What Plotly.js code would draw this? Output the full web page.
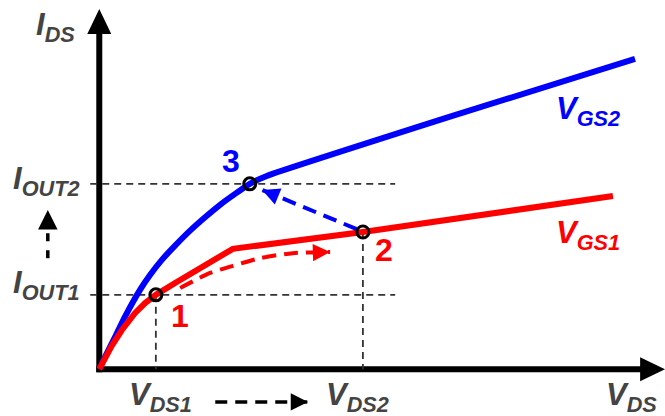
<!DOCTYPE html>
<html>
<head>
<meta charset="utf-8">
<script src="https://cdn.plot.ly/plotly-3.0.1.min.js"></script>
<style>
  html, body { margin: 0; padding: 0; background: #fff; }
  #chart { width: 665px; height: 416px; }
</style>
</head>
<body>
<div id="chart"></div>
<script>
// I-V characteristic for two gate voltages (arbitrary units)
const vgs2Vds = [0, 0.10, 0.28, 0.45, 0.72, 0.90, 1.11, 1.34, 1.60, 1.87, 2.13, 2.40, 2.66, 2.96, 6.20, 9.47];
const vgs2Ids = [0, 0.34, 0.90, 1.45, 2.21, 2.63, 3.05, 3.44, 3.85, 4.23, 4.57, 4.88, 5.16, 5.38, 7.03, 8.64];

const vgs1Vds = [0, 0.10, 0.22, 0.40, 0.63, 0.81, 1.00, 1.34, 1.69, 2.03, 2.36, 4.66, 6.91, 9.08];
const vgs1Ids = [0, 0.31, 0.65, 1.09, 1.56, 1.84, 2.07, 2.40, 2.73, 3.04, 3.35, 3.82, 4.32, 4.82];

// operating points 1, 2, 3
const opLabels = ['1', '2', '3'];
const opVds = [1.00, 4.66, 2.66];
const opIds = [2.07, 3.82, 5.16];

// transition paths between operating points
const step12Vds = [1.43, 1.96, 2.35, 2.84, 3.42, 4.08];
const step12Ids = [2.26, 2.68, 2.87, 3.09, 3.23, 3.26];
const step23Vds = [4.55, 2.88];
const step23Ids = [3.90, 4.99];

// hints beside the axes: I_OUT1 -> I_OUT2, V_DS1 -> V_DS2
const idsHintX = [-0.91, -0.91];
const idsHintY = [3.09, 4.43];
const vdsHintX = [2.05, 3.69];
const vdsHintY = [-0.91, -0.91];

const curveNames = ['V<sub>GS1</sub>', 'V<sub>GS2</sub>'];
const axisNames = ['V<sub>DS</sub>', 'I<sub>DS</sub>'];
const vdsTicks = ['V<sub>DS1</sub>', 'V<sub>DS2</sub>'];
const idsTicks = ['I<sub>OUT1</sub>', 'I<sub>OUT2</sub>'];

const RED = '#ff0000';
const BLUE = '#0000ff';
const INK = '#000000';
const GUIDE = '#333333';

// frame in data units
const X_MIN = -1.755, X_MAX = 10;
const Y_MIN = -1.303, Y_MAX = 10.278;
const guideLeft = -0.16, guideRight = 5.23;
const labelRow = -0.78;

const px = (X_MAX - X_MIN) / 665;   // data units per pixel, x
const py = (Y_MAX - Y_MIN) / 416;   // data units per pixel, y

const labelFont = { family: 'Liberation Sans, Arial, sans-serif', size: 31, weight: 'bold', style: 'italic' };
const digitFont = { family: 'Liberation Sans, Arial, sans-serif', size: 32, weight: 'bold' };

const guideLine = { color: GUIDE, width: 1.8, dash: '7px,5px' };

const traces = [
  // guide lines to the axes
  { x: [guideLeft, guideRight], y: [opIds[0], opIds[0]], mode: 'lines', line: guideLine, hoverinfo: 'skip' },
  { x: [guideLeft, guideRight], y: [opIds[2], opIds[2]], mode: 'lines', line: guideLine, hoverinfo: 'skip' },
  { x: [opVds[0], opVds[0]], y: [opIds[0], 0], mode: 'lines', line: guideLine, hoverinfo: 'skip' },
  { x: [opVds[1], opVds[1]], y: [opIds[1], 0], mode: 'lines', line: guideLine, hoverinfo: 'skip' },

  // characteristic curves
  { x: vgs2Vds, y: vgs2Ids, mode: 'lines', name: curveNames[1],
    line: { color: BLUE, width: 6, shape: 'spline', smoothing: 0.4 } },
  { x: vgs1Vds, y: vgs1Ids, mode: 'lines', name: curveNames[0],
    line: { color: RED, width: 6 } },

  // transitions 1 -> 2 and 2 -> 3 (shafts)
  { x: step12Vds, y: step12Ids, mode: 'lines', hoverinfo: 'skip',
    line: { color: RED, width: 4, dash: '14px,8px', shape: 'spline', smoothing: 0.8 } },
  { x: step23Vds, y: step23Ids, mode: 'lines', hoverinfo: 'skip',
    line: { color: BLUE, width: 4, dash: '14px,8px' } },

  // operating points
  { x: opVds, y: opIds, mode: 'markers', hoverinfo: 'skip',
    marker: { symbol: 'circle-open', size: 12, color: INK, line: { width: 3, color: INK } } },

  // hint shafts beside the axes
  { x: idsHintX, y: idsHintY, mode: 'lines', hoverinfo: 'skip',
    line: { color: INK, width: 3.5, dash: '8px,9px' } },
  { x: vdsHintX, y: vdsHintY, mode: 'lines', hoverinfo: 'skip',
    line: { color: INK, width: 3.5, dash: '12px,8px' } }
];

// arrowhead placed on the last point of a path, aligned with its last segment
function arrowHead(xs, ys, color, width, size) {
  const n = xs.length;
  const sx = (xs[n - 1] - xs[n - 2]) / px;
  const sy = -(ys[n - 1] - ys[n - 2]) / py;
  const len = Math.hypot(sx, sy);
  const tail = 8;
  return {
    x: xs[n - 1], y: ys[n - 1], xref: 'x', yref: 'y', text: '',
    showarrow: true, arrowhead: 2, arrowcolor: color, arrowwidth: width, arrowsize: size,
    ax: -sx / len * tail, ay: -sy / len * tail, standoff: 0
  };
}

const shapes = [
  // axes with arrowheads
  { type: 'line', layer: 'below', x0: 0, x1: 0, y0: -3 * py, y1: 9.45,
    line: { color: INK, width: 6 } },
  { type: 'path', layer: 'below', fillcolor: INK, line: { width: 0 },
    path: `M ${-12 * px},${9.33} L ${12 * px},${9.33} L 0,${10.03} Z` },
  { type: 'line', layer: 'below', x0: -3 * px, x1: 9.65, y0: 0, y1: 0,
    line: { color: INK, width: 6 } },
  { type: 'path', layer: 'below', fillcolor: INK, line: { width: 0 },
    path: `M 9.56,${-12 * py} L 9.56,${12 * py} L ${X_MAX},0 Z` }
];

const labels = [
  { x: -0.78, y: 9.52, text: axisNames[1], font: labelFont },
  { x: 9.40, y: labelRow, text: axisNames[0], font: labelFont },
  { x: opVds[0], y: labelRow, xshift: 5, text: vdsTicks[0], font: labelFont },
  { x: opVds[1], y: labelRow, xshift: -5, text: vdsTicks[1], font: labelFont },
  { x: -0.32, y: opIds[0], yshift: 10, xanchor: 'right', text: idsTicks[0], font: labelFont },
  { x: -0.32, y: opIds[2], yshift: 3, xanchor: 'right', text: idsTicks[1], font: labelFont },
  { x: 8.64, y: 7.19, text: curveNames[1], font: Object.assign({}, labelFont, { color: BLUE }) },
  { x: 8.64, y: 3.74, text: curveNames[0], font: Object.assign({}, labelFont, { color: RED }) },
  { x: opVds[0], y: opIds[0], xshift: 24, yshift: -21, text: opLabels[0], font: Object.assign({}, digitFont, { color: RED }) },
  { x: opVds[1], y: opIds[1], xshift: 21, yshift: -18, text: opLabels[1], font: Object.assign({}, digitFont, { color: RED }) },
  { x: opVds[2], y: opIds[2], xshift: -19, yshift: 23, text: opLabels[2], font: Object.assign({}, digitFont, { color: BLUE }) }
].map(a => Object.assign({ showarrow: false, xref: 'x', yref: 'y' }, a));

const annotations = labels.concat([
  arrowHead(step12Vds, step12Ids, RED, 3, 1.15),
  arrowHead(step23Vds, step23Ids, BLUE, 3, 1.15),
  arrowHead(idsHintX, idsHintY, INK, 3, 1.3),
  arrowHead(vdsHintX, vdsHintY, INK, 3, 1.15)
]);

const layout = {
  width: 665,
  height: 416,
  margin: { l: 0, r: 0, t: 0, b: 0 },
  paper_bgcolor: '#ffffff',
  plot_bgcolor: '#ffffff',
  showlegend: false,
  xaxis: { range: [X_MIN, X_MAX], visible: false, fixedrange: true },
  yaxis: { range: [Y_MIN, Y_MAX], visible: false, fixedrange: true },
  shapes: shapes,
  annotations: annotations
};

Plotly.newPlot('chart', traces, layout, { staticPlot: true, displayModeBar: false });
</script>
</body>
</html>
